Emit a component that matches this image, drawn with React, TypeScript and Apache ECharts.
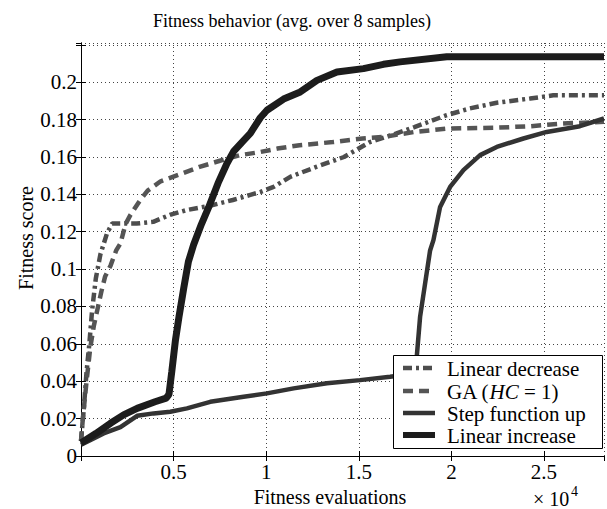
import React, { useEffect, useRef } from "react";
import * as echarts from "echarts";

// x in units of 10^4 fitness evaluations, y = fitness score
const linearDecrease: number[][] = [
  [0, 0.008], [0.015, 0.025], [0.03, 0.045], [0.045, 0.06], [0.06, 0.078], [0.08, 0.095],
  [0.105, 0.108], [0.14, 0.119], [0.168, 0.1244], [0.3, 0.1244], [0.39, 0.1253], [0.48, 0.129],
  [0.57, 0.1316], [0.7, 0.134], [0.82, 0.137], [0.91, 0.1396], [0.97, 0.1413], [1.04, 0.144],
  [1.13, 0.1494], [1.27, 0.1547], [1.42, 0.16], [1.56, 0.168], [1.7, 0.1725], [1.8, 0.176],
  [1.975, 0.1824], [2.1, 0.186], [2.245, 0.189], [2.425, 0.1913], [2.55, 0.193], [2.824, 0.193],
];

const gaHC1: number[][] = [
  [0, 0.008], [0.01, 0.02], [0.03, 0.04], [0.05, 0.058], [0.07, 0.07], [0.09, 0.079],
  [0.11, 0.088], [0.13, 0.096], [0.16, 0.102], [0.19, 0.11], [0.213, 0.1137], [0.24, 0.124],
  [0.267, 0.129], [0.32, 0.137], [0.36, 0.142], [0.43, 0.147], [0.54, 0.151], [0.64, 0.1547],
  [0.75, 0.158], [0.86, 0.161], [0.97, 0.1627], [1.06, 0.1645], [1.18, 0.1663], [1.36, 0.168],
  [1.52, 0.1699], [1.63, 0.1707], [1.8, 0.1734], [1.98, 0.1752], [2.25, 0.1757], [2.43, 0.1765],
  [2.6, 0.1779], [2.824, 0.1788],
];

const stepUp: number[][] = [
  [0, 0.006], [0.06, 0.009], [0.122, 0.0121], [0.213, 0.0155], [0.303, 0.0215], [0.392, 0.0228],
  [0.482, 0.0237], [0.572, 0.0255], [0.698, 0.029], [0.878, 0.0317], [1.004, 0.0335],
  [1.148, 0.0362], [1.328, 0.0389], [1.507, 0.0406], [1.669, 0.0424], [1.79, 0.044],
  [1.813, 0.0531], [1.831, 0.0745], [1.858, 0.0923], [1.885, 0.11], [1.903, 0.1155],
  [1.939, 0.1333], [1.993, 0.144], [2.065, 0.153], [2.155, 0.161], [2.245, 0.1654],
  [2.389, 0.1699], [2.515, 0.1734], [2.694, 0.1765], [2.824, 0.1806],
];

const linearIncrease: number[][] = [
  [0, 0.007], [0.08, 0.012], [0.159, 0.0175], [0.23, 0.022], [0.303, 0.0255], [0.4, 0.029],
  [0.46, 0.031], [0.475, 0.033], [0.49, 0.045], [0.51, 0.062], [0.53, 0.075], [0.555, 0.09],
  [0.58, 0.104], [0.608, 0.113], [0.65, 0.124], [0.689, 0.133], [0.74, 0.146], [0.788, 0.1565],
  [0.824, 0.163], [0.87, 0.168], [0.914, 0.1726], [0.968, 0.181], [1.004, 0.185],
  [1.094, 0.191], [1.184, 0.1948], [1.274, 0.201], [1.382, 0.2055], [1.525, 0.2073],
  [1.633, 0.2096], [1.723, 0.2109], [1.975, 0.2136], [2.824, 0.2136],
];

const seriesNames = ["Linear decrease", "GA (HC = 1)", "Step function up", "Linear increase"];
const legendLabels = ["{n|Linear decrease}", "{n|GA (}{i|HC}{n| = 1)}", "{n|Step function up}", "{n|Linear increase}"];
const titleText = "Fitness behavior (avg. over 8 samples)";
const xName = "Fitness evaluations";
const yName = "Fitness score";

const FONT = "Liberation Serif";

const styles = [
  { color: "#4d4d4d", width: 4.5, dash: [9, 4, 3, 4] as number[] | null },
  { color: "#555555", width: 4.5, dash: [10, 6] as number[] | null },
  { color: "#333333", width: 4.5, dash: null },
  { color: "#1c1c1c", width: 7, dash: null },
];
const seriesData = [linearDecrease, gaHC1, stepUp, linearIncrease];

const txt = (size: number, extra: any = {}) => ({
  fontFamily: FONT, fontSize: size, fill: "#000", ...extra,
});

export default function App() {
  const ref = useRef<HTMLDivElement>(null);
  useEffect(() => {
    if (!ref.current) return;
    const chart = echarts.init(ref.current, null, { renderer: "svg" });
    const gridLine = { show: true, lineStyle: { color: "#444", width: 1, type: [1, 3] } };
    const tick = { show: true, inside: true, length: 5, lineStyle: { color: "#000" } };
    const axisLine = { show: true, lineStyle: { color: "#000", width: 1 } };
    const labelStyle = { fontFamily: FONT, fontSize: 21, color: "#000" };

    const legX = 393, legY = 355, legW = 209, legH = 93;
    const rowY = [368, 391, 413, 435];
    const legendGraphics: any[] = [
      { type: "rect", shape: { x: legX + 0.5, y: legY + 0.5, width: legW, height: legH },
        style: { fill: "#fff", stroke: "#000", lineWidth: 1 }, z: 100 },
    ];
    seriesNames.forEach((_, k) => {
      const s = styles[k];
      legendGraphics.push({
        type: "line", z: 101,
        shape: { x1: 403, y1: rowY[k], x2: 435, y2: rowY[k] },
        style: { stroke: s.color, lineWidth: k === 3 ? 6 : 4.5, lineDash: s.dash || undefined },
      });
      legendGraphics.push({
        type: "text", z: 101, x: 447, y: rowY[k] + 1,
        style: txt(21, {
          text: legendLabels[k],
          align: "left", verticalAlign: "middle", textAlign: "left", textVerticalAlign: "middle",
          rich: {
            n: { fontFamily: FONT, fontSize: 21, fill: "#000", color: "#000" },
            i: { fontFamily: FONT, fontSize: 21, fontStyle: "italic", fill: "#000", color: "#000" },
          },
        }),
      });
    });

    chart.setOption({
      animation: false,
      backgroundColor: "#fff",
      grid: { left: 81, top: 43, right: 3, bottom: 53 },
      xAxis: [
        {
          type: "value", min: 0, max: 2.824, interval: 0.5, position: "bottom",
          axisLine, axisTick: tick, splitLine: gridLine,
          axisLabel: { ...labelStyle, margin: 5, showMaxLabel: false, showMinLabel: false,
            formatter: (v: number) => (v <= 0 || v > 2.6 ? "" : String(+v.toFixed(2))) },
        },
        {
          type: "value", min: 0, max: 2.824, interval: 0.5, position: "top",
          axisLine, axisTick: tick, splitLine: { show: false }, axisLabel: { show: false },
        },
      ],
      yAxis: [
        {
          type: "value", min: 0, max: 0.221, interval: 0.02, position: "left",
          axisLine, axisTick: tick, splitLine: gridLine,
          axisLabel: { ...labelStyle, margin: 4, showMaxLabel: false,
            formatter: (v: number) => (v > 0.21 ? "" : String(+v.toFixed(2))) },
        },
        {
          type: "value", min: 0, max: 0.221, interval: 0.02, position: "right",
          axisLine, axisTick: tick, splitLine: { show: false }, axisLabel: { show: false },
        },
      ],
      series: seriesNames.map((name, k) => ({
        name, type: "line", data: seriesData[k], symbol: "none",
        lineStyle: { color: styles[k].color, width: styles[k].width, type: styles[k].dash || "solid" },
        itemStyle: { color: styles[k].color },
      })),
      graphic: [
        { type: "text", x: 292, y: 21, style: txt(18, { text: titleText,
          align: "center", verticalAlign: "middle", textAlign: "center", textVerticalAlign: "middle" }) },
        { type: "text", x: 330, y: 497, style: txt(20, { text: xName,
          align: "center", verticalAlign: "middle", textAlign: "center", textVerticalAlign: "middle" }) },
        { type: "text", x: 26, y: 238, rotation: Math.PI / 2, style: txt(20, { text: yName,
          align: "center", verticalAlign: "middle", textAlign: "center", textVerticalAlign: "middle" }) },
        { type: "text", x: 533, y: 499, style: txt(20, { text: "× 10",
          align: "left", verticalAlign: "middle", textAlign: "left", textVerticalAlign: "middle" }) },
        { type: "text", x: 571, y: 491, style: txt(14, { text: "4",
          align: "left", verticalAlign: "middle", textAlign: "left", textVerticalAlign: "middle" }) },
        ...legendGraphics,
      ],
    });
    return () => chart.dispose();
  }, []);
  return <div ref={ref} style={{ position: "absolute", left: 0, top: 0, width: 607, height: 509 }} />;
}
